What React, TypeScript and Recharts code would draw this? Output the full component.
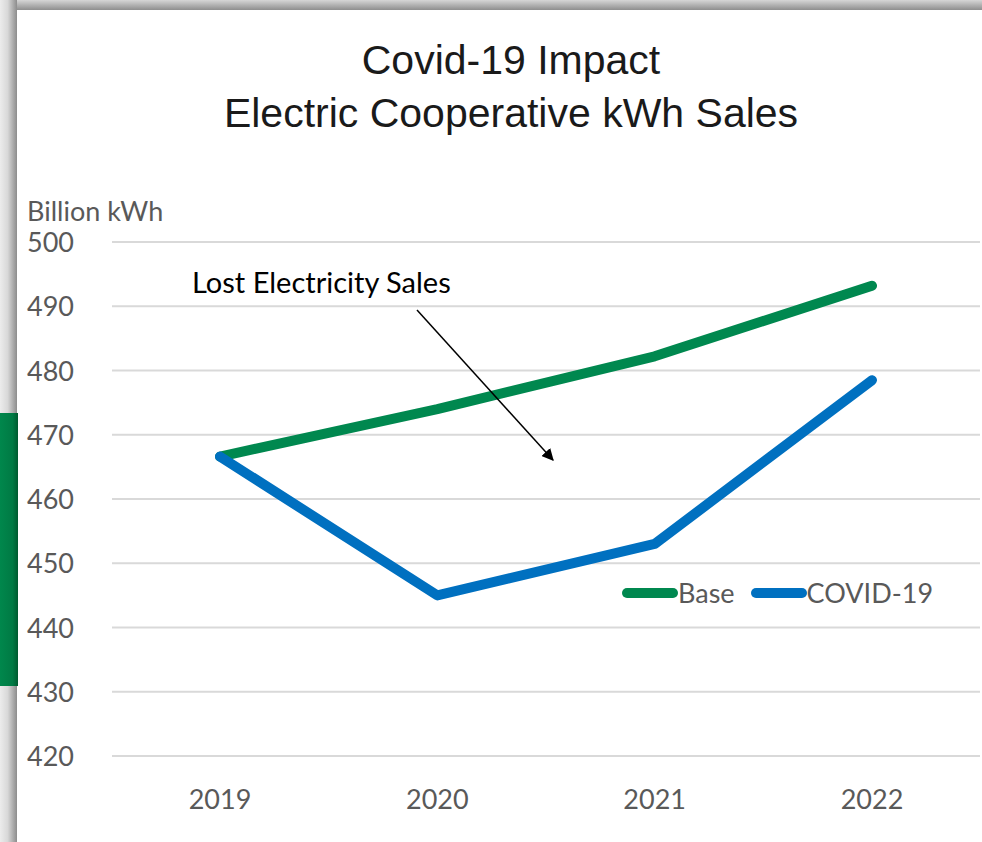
import React from 'react';
import { LineChart, Line, XAxis, YAxis, CartesianGrid, Legend } from 'recharts';

const years = ['2019', '2020', '2021', '2022'];
const baseSales = [466.6, 474.0, 482.2, 493.2];
const covidSales = [466.6, 445.0, 453.0, 478.5];
const yTicks = [420, 430, 440, 450, 460, 470, 480, 490, 500];

const data = years.map((year, i) => ({ year, base: baseSales[i], covid: covidSales[i] }));

const labelFont = 'Lato, "Open Sans", sans-serif';

function YTick(props: any) {
  const { y, payload } = props;
  return (
    <text x={27} y={y} dy={10} textAnchor="start" fill="#595959" fontSize={27} fontFamily={labelFont}>
      {payload.value}
    </text>
  );
}

function XTick(props: any) {
  const { x, y, payload } = props;
  return (
    <text x={x} y={y} dy={45} textAnchor="middle" fill="#595959" fontSize={27} fontFamily={labelFont}>
      {payload.value}
    </text>
  );
}

function LegendContent(props: any) {
  const items = props.payload || [];
  return (
    <div style={{ display: 'flex', alignItems: 'center' }}>
      {items.map((item: any) => (
        <div key={item.value} style={{ display: 'flex', alignItems: 'center', marginRight: 16 }}>
          <svg width={56} height={12} style={{ display: 'block' }}>
            <line x1={5} y1={6} x2={51} y2={6} stroke={item.color} strokeWidth={10} strokeLinecap="round" />
          </svg>
          <span style={{ fontFamily: labelFont, fontSize: 27, color: '#595959', lineHeight: '30px' }}>
            {item.value}
          </span>
        </div>
      ))}
    </div>
  );
}

export default function App() {
  return (
    <div style={{ position: 'absolute', left: 0, top: 0, width: 982, height: 842, overflow: 'hidden', background: '#ffffff' }}>
      {/* screenshot frame */}
      <div style={{ position: 'absolute', left: 0, top: 0, width: 982, height: 10, background: 'linear-gradient(to bottom, #d6d6d6, #8e8e8e)' }} />
      <div style={{ position: 'absolute', left: 0, top: 0, width: 17, height: 842, background: 'linear-gradient(to right, #ececec 0%, #d8d8d8 45%, #8c8c8c 100%)' }} />
      <div style={{ position: 'absolute', left: 0, top: 413, width: 18, height: 273, background: 'linear-gradient(to right, #00874c 0%, #007a44 70%, #005a30 100%)' }} />

      <div style={{ position: 'absolute', left: 0, top: 0 }}>
        <LineChart width={982} height={842} data={data} margin={{ top: 242, right: 2, bottom: 0, left: 0 }}>
          <CartesianGrid vertical={false} stroke="#d9d9d9" strokeWidth={2} />
          <XAxis
            dataKey="year"
            height={86}
            axisLine={false}
            tickLine={false}
            tick={<XTick />}
            interval={0}
            padding={{ left: 108, right: 108 }}
          />
          <YAxis width={112} domain={[420, 500]} ticks={yTicks} axisLine={false} tickLine={false} tick={<YTick />} interval={0} />
          <Legend
            content={<LegendContent />}
            layout="horizontal"
            align="center"
            verticalAlign="middle"
            wrapperStyle={{ left: 622, top: 578, width: 340, bottom: 'auto' }}
          />
          <Line
            type="linear"
            dataKey="base"
            name="Base"
            stroke="#00884f"
            strokeWidth={10}
            strokeLinecap="round"
            strokeLinejoin="round"
            dot={false}
            isAnimationActive={false}
          />
          <Line
            type="linear"
            dataKey="covid"
            name="COVID-19"
            stroke="#0070c0"
            strokeWidth={10}
            strokeLinecap="round"
            strokeLinejoin="round"
            dot={false}
            isAnimationActive={false}
          />
        </LineChart>
      </div>

      <svg width={982} height={842} style={{ position: 'absolute', left: 0, top: 0, pointerEvents: 'none' }}>
        <defs>
          <marker id="arrowHead" viewBox="0 0 10 10" refX="9" refY="5" markerWidth="8" markerHeight="8" orient="auto">
            <path d="M0,0 L10,5 L0,10 z" fill="#000" />
          </marker>
        </defs>
        <text x={511} y={74} textAnchor="middle" fontFamily='"Liberation Sans", Arial, sans-serif' fontSize={41} fill="#1a1a1a">
          Covid-19 Impact
        </text>
        <text x={511} y={127} textAnchor="middle" fontFamily='"Liberation Sans", Arial, sans-serif' fontSize={41} fill="#1a1a1a">
          Electric Cooperative kWh Sales
        </text>
        <text x={27} y={221} fontFamily={labelFont} fontSize={27} fill="#595959">Billion kWh</text>
        <text x={192} y={293} fontFamily={labelFont} fontSize={29} fill="#000">Lost Electricity Sales</text>
        <line x1={417} y1={310} x2={553} y2={460} stroke="#000" strokeWidth={1.5} markerEnd="url(#arrowHead)" />
      </svg>
    </div>
  );
}
